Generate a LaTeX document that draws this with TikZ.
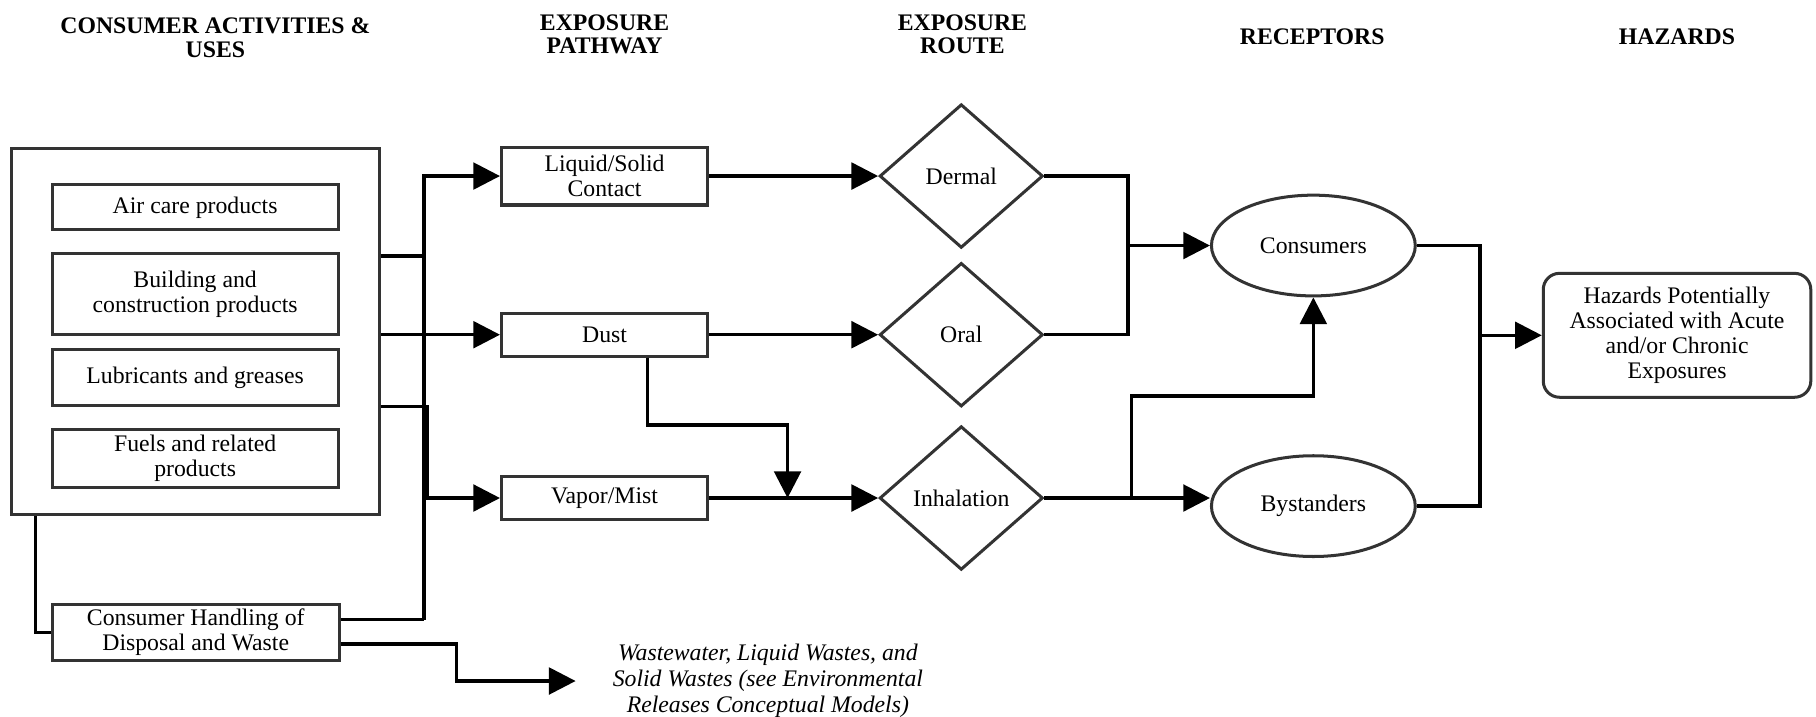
\documentclass[tikz,border=0pt]{standalone}
\usepackage{fontspec}
\setmainfont{Liberation Serif}
\usetikzlibrary{shapes.geometric,arrows.meta}
\definecolor{edge}{HTML}{333333}
\begin{document}
\begin{tikzpicture}[x=1pt,y=-1pt,
  font=\fontsize{20.5}{21.5}\selectfont,
  box/.style={draw=edge, line width=2.6pt, rectangle, inner sep=0pt, align=center},
  dia/.style={draw=edge, line width=2.6pt, diamond, inner sep=0pt, minimum width=141pt, minimum height=124pt},
  ell/.style={draw=edge, line width=2.6pt, ellipse, inner sep=0pt, minimum width=176pt, minimum height=87pt},
  conn/.style={line width=2.9pt, black},
  arr/.style={conn, -{Triangle[length=23pt,width=23pt]}},
  hdr/.style={font=\fontsize{20.5}{20}\selectfont\bfseries, align=center},
]
\useasboundingbox (0,0) rectangle (1568,619);

% headers
\node[hdr] (h1) at (186,32.5) {CONSUMER ACTIVITIES \&\\USES};
\node[hdr] (h2) at (522,29.5) {EXPOSURE\\PATHWAY};
\node[hdr] (h3) at (831,29.5) {EXPOSURE\\ROUTE};
\node[hdr] (h4) at (1133,31.5) {RECEPTORS};
\node[hdr] (h5) at (1448,31.5) {HAZARDS};

% consumer activities
\node[box, minimum width=318pt, minimum height=316pt] (cat) at (169,286) {};
\node[box, minimum width=247pt, minimum height=39pt] (air) at (168.5,179) {Air care products};
\node[box, minimum width=247pt, minimum height=70pt] (bld) at (168.5,254) {Building and\\construction products};
\node[box, minimum width=247pt, minimum height=48pt] (lub) at (168.5,326) {Lubricants and greases};
\node[box, minimum width=247pt, minimum height=50pt] (fuel) at (168.5,396) {Fuels and related\\products};
\node[box, minimum width=248pt, minimum height=48pt] (hand) at (169,546) {Consumer Handling of\\Disposal and Waste};

% pathways
\node[box, minimum width=178pt, minimum height=50pt] (liq) at (522,152) {Liquid/Solid\\Contact};
\node[box, minimum width=178pt, minimum height=37pt] (dust) at (522,289) {Dust};
\node[box, minimum width=178pt, minimum height=37pt] (vap) at (522,430) {Vapor/Mist};

% routes
\node[dia] (derm) at (830,152) {Dermal};
\node[dia] (oral) at (830,289) {Oral};
\node[dia] (inh) at (830,430) {Inhalation};

% receptors
\node[ell] (cons) at (1134,212) {Consumers};
\node[ell] (bys) at (1134,437) {Bystanders};

% hazards
\node[box, rounded corners=14pt, minimum width=231pt, minimum height=107pt] (haz) at (1448,289.5) {Hazards Potentially\\Associated with Acute\\and/or Chronic\\Exposures};

% waste text
\node[align=center, font=\fontsize{20.5}{22.5}\selectfont\itshape] (ww) at (663,588) {Wastewater, Liquid Wastes, and\\Solid Wastes (see Environmental\\Releases Conceptual Models)};

% connectors left
\coordinate (jA) at (366,221);
\coordinate (jB) at (366,535);
\coordinate (jC) at (369,351);
\coordinate (cl) at (30.5,444);
\coordinate (w1) at (394,556);
\coordinate (w2) at (497,588);
\draw[conn] (cat.east |- jA) -- (jA);
\draw[arr] (jA) |- (liq.west);
\draw[conn] (jA) -- (jB);
\draw[conn] (hand.east |- jB) -- (jB);
\draw[arr] (cat.east |- dust.west) -- (dust.west);
\draw[arr] (cat.east |- jC) -- (jC) |- (vap.west);
\draw[arr] (hand.east |- w1) -- (w1) |- (w2);
\draw[conn] (cat.south -| cl) |- (hand.west);

% pathways to routes
\coordinate (d1) at (559,367);
\coordinate (d2) at (680,367);
\draw[arr] (liq.east) -- (derm.west);
\draw[arr] (dust.east) -- (oral.west);
\draw[arr] (vap.east) -- (inh.west);
\draw[arr] (dust.south -| d1) |- (d2) -- (d2 |- vap.east);

% routes to receptors
\coordinate (j2) at (974,212);
\coordinate (j3) at (977,430);
\coordinate (j4) at (1134,342);
\draw[conn] (derm.east) -| (j2);
\draw[conn] (oral.east) -| (j2);
\draw[arr] (j2) -- (cons.west);
\draw[conn] (inh.east) -- (j3);
\draw[arr] (j3) -- (j3 -| bys.west);
\draw[arr] (j3) |- (j4) -- (cons.south);

% receptors to hazards
\coordinate (j5) at (1278,289.5);
\draw[conn] (cons.east) -| (j5);
\draw[conn] (bys.east) -| (j5);
\draw[arr] (j5) -- (haz.west);
\end{tikzpicture}
\end{document}
